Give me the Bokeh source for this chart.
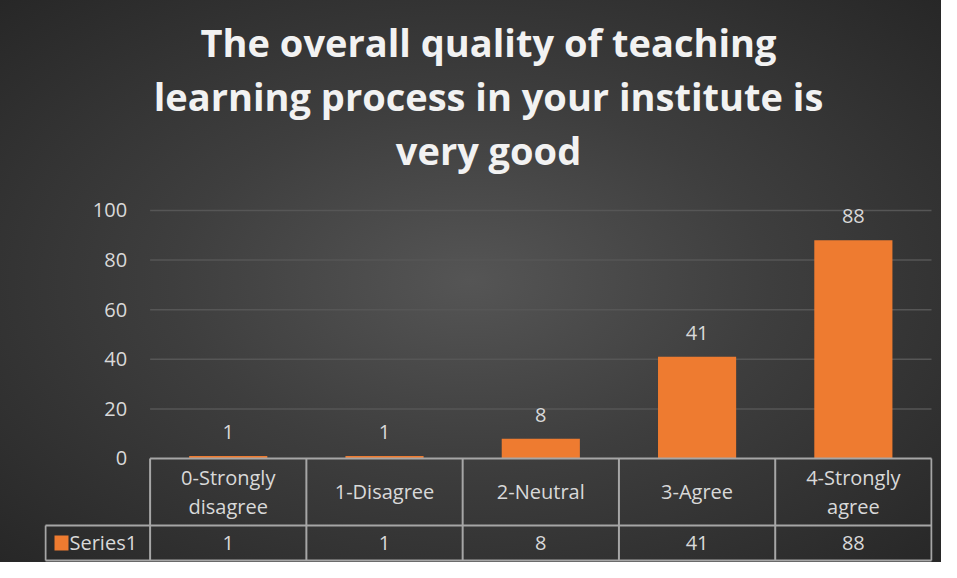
from bokeh.plotting import figure
from bokeh.models import Range1d, Title
from bokeh.core.properties import value
from bokeh.embed import file_html
from bokeh.resources import INLINE

# ---- data ----
categories = ["0-Strongly\ndisagree", "1-Disagree", "2-Neutral", "3-Agree", "4-Strongly\nagree"]
counts = [1, 1, 8, 41, 88]
series_name = "Series1"
y_ticks = [0, 20, 40, 60, 80, 100]
y_tick_labels = ["0", "20", "40", "60", "80", "100"]
title_lines = ["The overall quality of teaching",
               "learning process in your institute is",
               "very good"]

# ---- style ----
FONT = "Open Sans"
TXT = "#d9d9d9"
BAR = "#ee7b30"
TABLE_LINE = "#a6a6a6"
GRID = "#565656"

xs = list(range(len(categories)))
n = len(categories)
cat_left = -0.5
cat_right = n - 0.5
W, H = 941, 562
ML, MR, MT, MB = 44, 9, 175, 0
x0, x1 = -1.1757, 4.5064
y0, y1 = -41.94, 114.1
px_x = (W - ML - MR) / (x1 - x0)       # pixels per x unit
table_left = x0 + 1 / px_x             # left edge of the legend cell
row_div = -27.0                        # boundary between category row and value row
table_bottom = -41.1

p = figure(width=W, height=H, output_backend="svg", toolbar_location=None,
           x_range=Range1d(x0, x1), y_range=Range1d(y0, y1),
           min_border_left=ML, min_border_right=MR, min_border_top=MT,
           min_border_bottom=MB)
p.title = None
for line in reversed(title_lines):
    p.add_layout(Title(text=line, align="center",
                       text_font=FONT, text_font_style="bold", text_font_size="38px",
                       text_color="#f2f2f2", standoff=0), "above")

p.styles = {"background": "radial-gradient(ellipse at 50% 50%, #555555 0%, #3e3e3e 45%, #272727 100%)"}
p.background_fill_alpha = 0
p.border_fill_alpha = 0
p.outline_line_color = None
p.xaxis.visible = False
p.yaxis.visible = False
p.xgrid.visible = False
p.ygrid.visible = False

# gridlines
gy = [t for t in y_ticks if t > 0]
p.segment(x0=[cat_left] * len(gy), x1=[cat_right] * len(gy), y0=gy, y1=gy,
          line_color=GRID, line_width=1.5)

# y tick labels
p.text(x=[cat_left] * len(y_ticks), y=y_ticks, text=y_tick_labels,
       text_font=value(FONT), text_font_size="20px", text_color=TXT,
       text_align="right", text_baseline="middle", x_offset=-23)

# bars
p.vbar(x=xs, top=counts, bottom=0, width=0.5, fill_color=BAR, line_color=None)

# data labels
p.text(x=xs, y=counts, text=[str(c) for c in counts],
       text_font=value(FONT), text_font_size="20px", text_color=TXT,
       text_align="center", text_baseline="middle", y_offset=-24)

# data table lines
hx0 = [cat_left, table_left, table_left]
hy = [0, row_div, table_bottom]
p.segment(x0=hx0, x1=[cat_right] * 3, y0=hy, y1=hy, line_color=TABLE_LINE, line_width=2)
vx = [i - 0.5 for i in range(n + 1)]
p.segment(x0=vx, x1=vx, y0=[0] * len(vx), y1=[table_bottom] * len(vx),
          line_color=TABLE_LINE, line_width=2)
p.segment(x0=[table_left], x1=[table_left], y0=[row_div], y1=[table_bottom],
          line_color=TABLE_LINE, line_width=2)

# category labels
p.text(x=xs, y=[row_div / 2] * n, text=categories,
       text_font=value(FONT), text_font_size="20px", text_color=TXT,
       text_align="center", text_baseline="middle", text_line_height=1.05)

# value row
vy = (row_div + table_bottom) / 2
p.text(x=xs, y=[vy] * n, text=[str(c) for c in counts],
       text_font=value(FONT), text_font_size="20px", text_color=TXT,
       text_align="center", text_baseline="middle")

# legend cell
p.rect(x=[table_left + 16 / px_x], y=[vy], width=14, height=15, width_units="screen",
       height_units="screen", fill_color=BAR, line_color=None)
p.text(x=[table_left], y=[vy], text=[series_name], x_offset=24,
       text_font=value(FONT), text_font_size="20px", text_color=TXT,
       text_align="left", text_baseline="middle")

open("out.html", "w").write(file_html(p, INLINE))
